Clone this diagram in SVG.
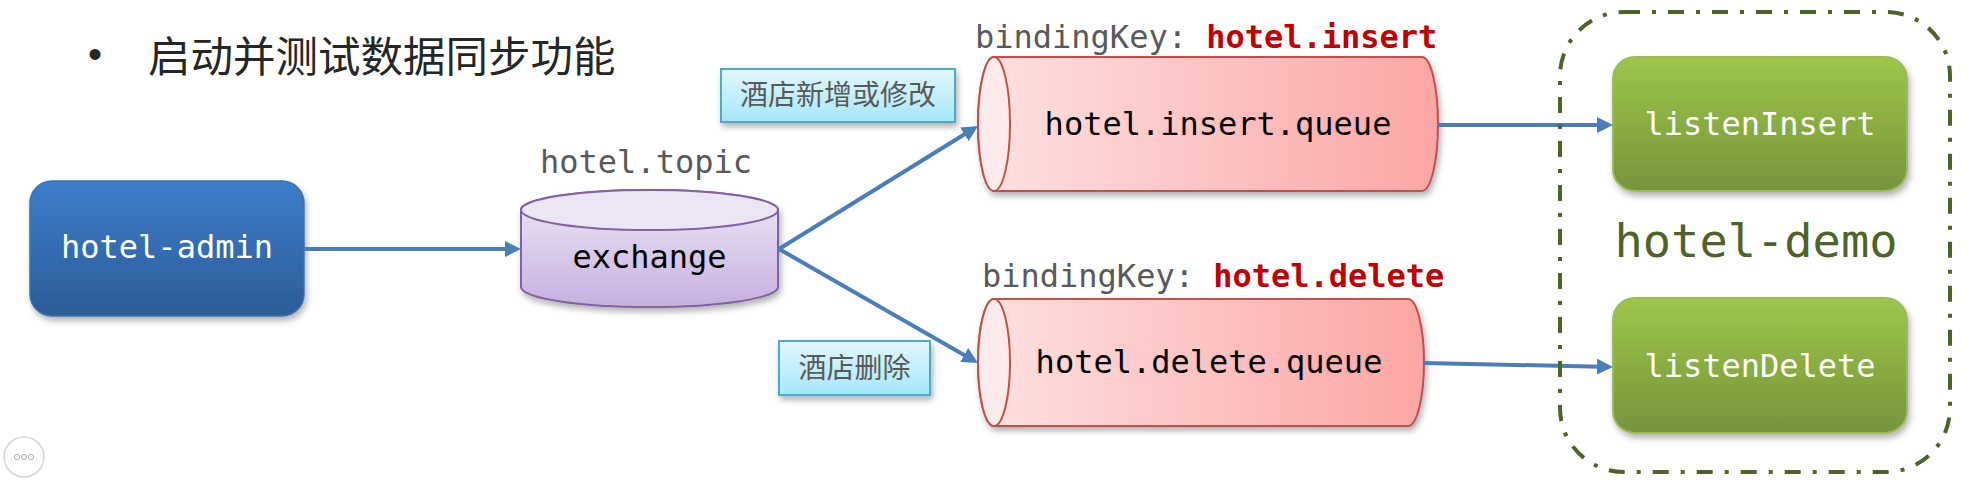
<svg xmlns="http://www.w3.org/2000/svg" width="1983" height="480" viewBox="0 0 1983 480">
<defs>
  <linearGradient id="gBlue" x1="0" y1="0" x2="0" y2="1">
    <stop offset="0" stop-color="#3d7dca"/>
    <stop offset="1" stop-color="#2c5c98"/>
  </linearGradient>
  <linearGradient id="gPurple" x1="0" y1="0" x2="0" y2="1">
    <stop offset="0" stop-color="#eee8f6"/>
    <stop offset="1" stop-color="#c6b0df"/>
  </linearGradient>
  <linearGradient id="gRed" x1="0" y1="0" x2="1" y2="0">
    <stop offset="0" stop-color="#fde1e1"/>
    <stop offset="1" stop-color="#fca6a5"/>
  </linearGradient>
  <linearGradient id="gGreen" x1="0" y1="0" x2="0" y2="1">
    <stop offset="0" stop-color="#9dc64a"/>
    <stop offset="1" stop-color="#76943a"/>
  </linearGradient>
  <linearGradient id="gCyan" x1="0" y1="0" x2="0" y2="1">
    <stop offset="0" stop-color="#e3f7fc"/>
    <stop offset="1" stop-color="#a4e7fb"/>
  </linearGradient>
  <filter id="shadow" x="-10%" y="-10%" width="125%" height="135%">
    <feDropShadow dx="2" dy="4" stdDeviation="3" flood-color="#000" flood-opacity="0.3"/>
  </filter>
  <marker id="arrow" markerUnits="userSpaceOnUse" markerWidth="16" markerHeight="16" viewBox="0 0 16 16" refX="4" refY="8" orient="auto">
    <path d="M0,0 L16,8 L0,16 z" fill="#4a7ebb"/>
  </marker>
  <style>
    .mono { font-family: "DejaVu Sans Mono", "Liberation Mono", monospace; font-size: 32px; }
    .cjk { font-family: "Noto Sans CJK SC", "Noto Sans", sans-serif; }
    .grey { fill: #595959; }
    .key { fill: #c00000; font-weight: bold; }
    .white { fill: #ffffff; }
    .conn { stroke: #4a7ebb; stroke-width: 4; fill: none; marker-end: url(#arrow); }
    .queue { fill: url(#gRed); stroke: #c0504d; stroke-width: 2; }
    .qface { fill: #fdeaea; stroke: #c0504d; stroke-width: 2; }
    .green { fill: url(#gGreen); stroke: #9bbb59; stroke-width: 2; }
    .label { fill: url(#gCyan); stroke: #4bacc6; stroke-width: 2; }
  </style>
</defs>
<rect width="1983" height="480" fill="#ffffff"/>

<g id="title">
  <text x="95" y="68" font-family="Liberation Sans, sans-serif" font-size="40" fill="#262626" text-anchor="middle">•</text>
  <text x="148" y="72" class="cjk" font-size="42.5" fill="#262626">启动并测试数据同步功能</text>
</g>

<g id="hotel-admin">
  <rect x="30" y="181" width="274" height="135" rx="22" fill="url(#gBlue)" stroke="#3a70b5" stroke-width="1.5" filter="url(#shadow)"/>
  <text x="167" y="258" class="mono white" text-anchor="middle">hotel-admin</text>
</g>

<g id="exchange">
  <text x="646" y="173" class="mono grey" text-anchor="middle">hotel.topic</text>
  <path d="M521,210 L521,287 A128.5,20 0 0 0 778,287 L778,210 A128.5,20 0 0 0 521,210 Z" fill="url(#gPurple)" stroke="#8064a2" stroke-width="2" filter="url(#shadow)"/>
  <ellipse cx="649.5" cy="210" rx="128.5" ry="20" fill="#ece5f5" stroke="#8064a2" stroke-width="2"/>
  <text x="649.5" y="268" class="mono" fill="#000" text-anchor="middle">exchange</text>
</g>

<g id="label-insert">
  <rect x="721" y="69" width="234" height="53" class="label" filter="url(#shadow)"/>
  <text x="838" y="105" class="cjk grey" font-size="28" text-anchor="middle">酒店新增或修改</text>
</g>

<g id="label-delete">
  <rect x="779" y="341" width="151" height="54" class="label" filter="url(#shadow)"/>
  <text x="854.5" y="378" class="cjk grey" font-size="28" text-anchor="middle">酒店删除</text>
</g>

<g id="insert-queue">
  <text x="975" y="48" class="mono"><tspan class="grey">bindingKey: </tspan><tspan class="key">hotel.insert</tspan></text>
  <path d="M994,57 L1422,57 A16,67 0 0 1 1422,191 L994,191 A16,67 0 0 1 994,57 Z" class="queue" filter="url(#shadow)"/>
  <ellipse cx="994" cy="124" rx="16" ry="67" class="qface"/>
  <text x="1218" y="135" class="mono" fill="#000" text-anchor="middle">hotel.insert.queue</text>
</g>

<g id="delete-queue">
  <text x="982" y="287" class="mono"><tspan class="grey">bindingKey: </tspan><tspan class="key">hotel.delete</tspan></text>
  <path d="M994,299 L1408,299 A16,63.5 0 0 1 1408,426 L994,426 A16,63.5 0 0 1 994,299 Z" class="queue" filter="url(#shadow)"/>
  <ellipse cx="994" cy="362.5" rx="16" ry="63.5" class="qface"/>
  <text x="1209" y="373" class="mono" fill="#000" text-anchor="middle">hotel.delete.queue</text>
</g>

<g id="listenInsert">
  <rect x="1613" y="57" width="294" height="134" rx="22" class="green" filter="url(#shadow)"/>
  <text x="1760" y="135" class="mono white" text-anchor="middle">listenInsert</text>
</g>

<g id="listenDelete">
  <rect x="1613" y="298" width="294" height="135" rx="22" class="green" filter="url(#shadow)"/>
  <text x="1760" y="377" class="mono white" text-anchor="middle">listenDelete</text>
</g>

<g id="connectors">
  <line x1="304" y1="249" x2="509" y2="249" class="conn"/>
  <line x1="779" y1="249" x2="967.8" y2="132.3" class="conn"/>
  <line x1="779" y1="249" x2="967.6" y2="357" class="conn"/>
  <line x1="1438" y1="125" x2="1601" y2="125" class="conn"/>
  <line x1="1424" y1="363" x2="1601" y2="366.7" class="conn"/>
</g>

<g id="hotel-demo">
  <rect x="1560" y="12" width="390" height="460" rx="64" fill="none" stroke="#4f6228" stroke-width="4" stroke-dasharray="16 12 4 12"/>
  <text x="1756" y="257" font-family="DejaVu Sans Mono, Liberation Mono, monospace" font-size="47" fill="#4f6228" text-anchor="middle">hotel-demo</text>
</g>

<g id="menu-icon">
  <circle cx="24" cy="457" r="20" fill="#ffffff" stroke="#d4d4d4" stroke-width="1.5"/>
  <circle cx="17" cy="457" r="2.6" fill="none" stroke="#b0b0b0" stroke-width="1"/>
  <circle cx="24" cy="457" r="2.6" fill="none" stroke="#b0b0b0" stroke-width="1"/>
  <circle cx="31" cy="457" r="2.6" fill="none" stroke="#b0b0b0" stroke-width="1"/>
</g>
</svg>
